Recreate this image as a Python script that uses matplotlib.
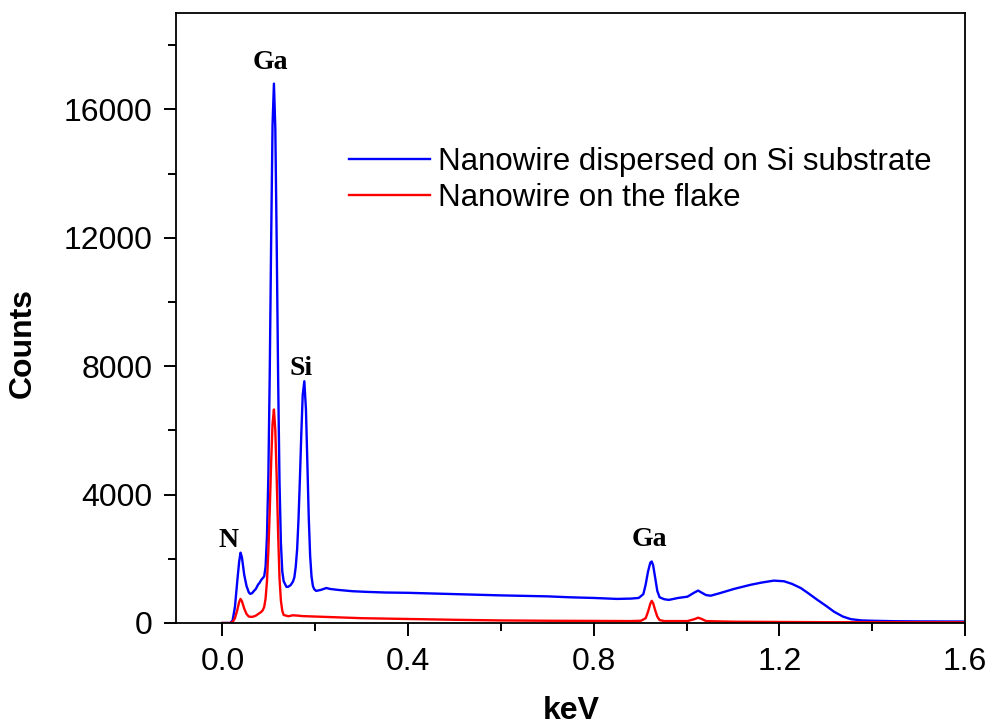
import matplotlib
matplotlib.use("Agg")
import matplotlib.pyplot as plt
from matplotlib.ticker import MultipleLocator

# EDS spectra: energy (keV) and counts
kev_si = [0.000, 0.017, 0.022, 0.027, 0.032, 0.036, 0.039, 0.042, 0.047, 0.052,
          0.057, 0.060, 0.064, 0.068, 0.072, 0.077, 0.080, 0.084, 0.087, 0.090,
          0.093, 0.096, 0.099, 0.102, 0.105, 0.108, 0.111, 0.114, 0.117, 0.120,
          0.123, 0.126, 0.129, 0.132, 0.138, 0.142, 0.147, 0.152, 0.155, 0.158,
          0.161, 0.164, 0.167, 0.170, 0.173, 0.1765, 0.180, 0.183, 0.186, 0.189,
          0.192, 0.195, 0.198, 0.202, 0.212, 0.224, 0.232, 0.25, 0.28, 0.31,
          0.35, 0.40, 0.45, 0.50, 0.55, 0.60, 0.65, 0.70, 0.75, 0.80,
          0.85, 0.88, 0.897, 0.907, 0.912, 0.917, 0.922, 0.925, 0.928, 0.932,
          0.937, 0.942, 0.952, 0.962, 0.982, 1.002, 1.017, 1.025, 1.032, 1.042,
          1.052, 1.072, 1.102, 1.138, 1.162, 1.188, 1.21, 1.227, 1.246, 1.262,
          1.282, 1.302, 1.318, 1.337, 1.354, 1.377, 1.40, 1.45, 1.5, 1.6]
counts_si = [0, 0, 80, 500, 1300, 1900, 2190, 2050, 1500, 1150,
             950, 906, 930, 1000, 1060, 1200, 1250, 1350, 1400, 1450,
             1750, 2700, 4600, 7800, 11900, 15500, 16800, 15400, 11800, 7700,
             4400, 2500, 1600, 1300, 1125, 1130, 1180, 1290, 1420, 1750,
             2300, 3250, 4500, 5900, 7100, 7530, 6650, 5000, 3300, 2100,
             1450, 1150, 1050, 1000, 1030, 1090, 1060, 1030, 990, 970,
             950, 940, 920, 900, 880, 860, 845, 830, 800, 780,
             750, 760, 780, 900, 1200, 1600, 1880, 1916, 1800, 1450,
             1000, 800, 740, 720, 780, 820, 950, 1010, 950, 870,
             850, 930, 1060, 1190, 1260, 1320, 1300, 1220, 1090, 930,
             720, 520, 350, 200, 120, 80, 70, 55, 50, 45]

kev_flake = [0.000, 0.017, 0.022, 0.027, 0.032, 0.036, 0.039, 0.042, 0.047, 0.052,
             0.057, 0.062, 0.067, 0.072, 0.077, 0.080, 0.084, 0.087, 0.090, 0.093,
             0.096, 0.099, 0.102, 0.105, 0.108, 0.111, 0.114, 0.117, 0.120, 0.123,
             0.126, 0.129, 0.132, 0.142, 0.152, 0.162, 0.172, 0.202, 0.30, 0.40,
             0.50, 0.60, 0.70, 0.80, 0.88, 0.902, 0.912, 0.917, 0.922, 0.925,
             0.928, 0.932, 0.937, 0.942, 0.952, 1.002, 1.017, 1.025, 1.032, 1.042,
             1.102, 1.30, 1.60]
counts_flake = [0, 0, 30, 150, 400, 650, 750, 680, 450, 280,
                200, 190, 200, 230, 280, 310, 350, 400, 500, 760,
                1300, 2250, 3500, 5000, 6200, 6650, 6000, 4500, 2800, 1400,
                700, 380, 250, 210, 240, 230, 215, 200, 150, 125,
                100, 80, 70, 65, 60, 70, 150, 350, 600, 690,
                620, 420, 200, 90, 60, 60, 120, 165, 130, 60,
                40, 25, 20]

series_labels = ["Nanowire dispersed on Si substrate", "Nanowire on the flake"]

# peak annotations: (label, keV, counts at text baseline)
peak_labels = ["Ga", "Si", "N", "Ga"]
peak_kev = [0.104, 0.170, 0.013, 0.921]
peak_counts = [17250, 7720, 2375, 2406]

x_ticks = [0.0, 0.4, 0.8, 1.2, 1.6]
y_ticks = [0, 4000, 8000, 12000, 16000]

plt.rcParams["font.family"] = ["Liberation Sans", "DejaVu Sans"]

fig = plt.figure(figsize=(9.92, 7.26), dpi=100)
ax = fig.add_axes([176 / 992, 103 / 726, 789 / 992, 610 / 726])

ax.plot(kev_si, counts_si, color="#0000ff", lw=1.7, label=series_labels[0])
ax.plot(kev_flake, counts_flake, color="#ff0000", lw=1.7, label=series_labels[1])

ax.set_xlim(-0.1, 1.6)
ax.set_ylim(0, 19000)
ax.set_xticks(x_ticks)
ax.set_xticklabels([f"{t:.1f}" for t in x_ticks])
ax.set_yticks(y_ticks)
ax.set_yticklabels([str(t) for t in y_ticks])
ax.xaxis.set_minor_locator(MultipleLocator(0.2))
ax.yaxis.set_minor_locator(MultipleLocator(2000))

ax.tick_params(which="both", direction="out", width=1.4, top=False, right=False,
               labelsize=23, pad=8)
ax.tick_params(which="major", length=9)
ax.tick_params(which="minor", length=6)
for sp in ax.spines.values():
    sp.set_linewidth(1.3)

for lab, xk, yc in zip(peak_labels, peak_kev, peak_counts):
    ax.text(xk, yc, lab, ha="center", va="baseline", fontsize=20,
            fontweight="bold", family=["Liberation Serif", "DejaVu Serif"])

fig.text(23 / 992, 1 - 343 / 726, "Counts", rotation=90, ha="center", va="center",
         fontsize=23, fontweight="bold")
fig.text(571 / 992, 1 - 719 / 726, "keV", ha="center", va="baseline",
         fontsize=23, fontweight="bold")

ax.legend(loc="upper left", bbox_to_anchor=(0.219, 0.78), frameon=False,
          fontsize=22.5, handlelength=2.6, handletextpad=0.27,
          labelspacing=0.18, borderpad=0, borderaxespad=0)

fig.savefig("out.png", dpi=100)
